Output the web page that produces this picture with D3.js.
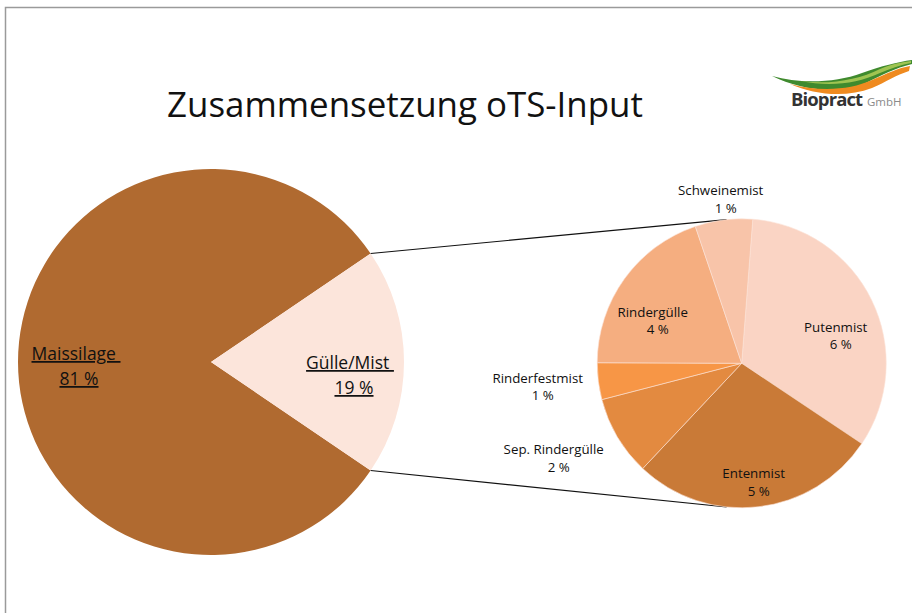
<!DOCTYPE html>
<html>
<head>
<meta charset="utf-8">
<script src="https://cdn.jsdelivr.net/npm/d3@7/dist/d3.min.js"></script>
<style>
  html, body { margin: 0; padding: 0; background: #fff; }
  svg { display: block; font-family: "Open Sans", "Noto Sans", sans-serif; }
</style>
</head>
<body>
<div id="chart"></div>
<script>
// Main pie: share of oTS input (%)
const mainNames = ['Maissilage', 'Gülle/Mist'];
const mainValues = [81, 19];

// Breakdown of Gülle/Mist (% of total oTS input)
const subNames = ['Putenmist', 'Entenmist', 'Sep. Rindergülle', 'Rinderfestmist', 'Rindergülle', 'Schweinemist'];
const subValues = [6.3, 5.25, 1.7, 0.78, 3.75, 1.22];

const titleText = 'Zusammensetzung oTS-Input';

const width = 912;
const height = 613;

const colors = {
  main: ['#B06A30', '#FCE5DB'],
  sub: ['#FAD4C4', '#C97A37', '#E38A40', '#F79646', '#F5AE80', '#F8C4A9'],
  border: '#9a9a9a',
  text: '#111'
};

const svg = d3.select('#chart')
  .append('svg')
  .attr('width', width)
  .attr('height', height);

// frame
svg.append('path')
  .attr('d', `M5.5,${height} L5.5,7.5 L${width},7.5`)
  .attr('fill', 'none')
  .attr('stroke', colors.border)
  .attr('stroke-width', 1.5);

// ============================================
// Title
// ============================================
const title = svg.append('text')
  .attr('x', 405)
  .attr('y', 117)
  .attr('text-anchor', 'middle')
  .attr('fill', colors.text)
  .attr('font-size', '30px')
  .text(titleText);
// fit to the width of the original title
const tw = title.node().getComputedTextLength();
title.attr('font-size', (30 * 476 / tw).toFixed(2) + 'px');

// ============================================
// Logo
// ============================================
const logo = svg.append('g');
logo.append('path')
  .attr('d', 'M772,76 C800,84 835,83 862,73 C882,66 897,62 912,60 L912,64 C895,68 882,75 866,83 C838,95 800,90 772,76 Z')
  .attr('fill', '#3f8a2e');
logo.append('path')
  .attr('d', 'M790,84 C820,92 850,90 872,80 C888,73 898,68 910,66 L909,71 C896,75 886,82 872,88 C846,98 815,95 790,84 Z')
  .attr('fill', '#ef8a1f');
logo.append('path')
  .attr('d', 'M800,81 C830,85 858,80 880,69 C892,64 902,62 911,61 L911,63 C900,65 890,69 880,73 C856,84 830,87 800,81 Z')
  .attr('fill', '#b8d25a')
  .attr('opacity', 0.8);
logo.append('text')
  .attr('x', 791)
  .attr('y', 106)
  .attr('fill', '#333')
  .attr('font-size', '18.5px')
  .attr('font-weight', 'bold')
  .attr('letter-spacing', '-0.9px')
  .text('Biopract');
logo.append('text')
  .attr('x', 867)
  .attr('y', 106)
  .attr('fill', '#8a8a8a')
  .attr('font-size', '11.5px')
  .text('GmbH');

// ============================================
// MAIN PIE
// ============================================
const mainCx = 211, mainCy = 362, mainR = 193;
const gShare = mainValues[1] / d3.sum(mainValues);

const mainPie = d3.pie()
  .sort(null)
  .startAngle(Math.PI / 2 + gShare * Math.PI)
  .endAngle(Math.PI / 2 + gShare * Math.PI + 2 * Math.PI)
  .value(d => d);

const mainArcs = mainPie(mainValues);
const mainArc = d3.arc().innerRadius(0).outerRadius(mainR);

const mainG = svg.append('g')
  .attr('transform', `translate(${mainCx},${mainCy})`);

mainG.selectAll('.main-slice')
  .data(mainArcs)
  .enter()
  .append('path')
  .attr('class', 'main-slice')
  .attr('d', mainArc)
  .attr('fill', (d, i) => colors.main[i]);

// main labels (offset from centre)
const mainLabelPos = [
  { x: -135, y: -2, dx2: 3 },
  { x: 139, y: 7, dx2: 4 }
];

mainArcs.forEach((d, i) => {
  const p = mainLabelPos[i];
  mainG.append('text')
    .attr('x', p.x)
    .attr('y', p.y)
    .attr('text-anchor', 'middle')
    .attr('fill', colors.text)
    .attr('font-size', '17.5px')
    .style('text-decoration', 'underline')
    .style('white-space', 'pre')
    .text(mainNames[i] + ' ');
  mainG.append('text')
    .attr('x', p.x + p.dx2)
    .attr('y', p.y + 25)
    .attr('text-anchor', 'middle')
    .attr('fill', colors.text)
    .attr('font-size', '17.5px')
    .style('text-decoration', 'underline')
    .text(`${Math.round(mainValues[i])} %`);
});

// ============================================
// SUB PIE (breakdown of Gülle/Mist)
// ============================================
const subCx = 741.7, subCy = 363.3, subR = 144.5;
const subStart = 4.4 * Math.PI / 180;

const subPie = d3.pie()
  .sort(null)
  .startAngle(subStart)
  .endAngle(subStart + 2 * Math.PI)
  .value(d => d);

const subArcs = subPie(subValues);
const subArc = d3.arc().innerRadius(0).outerRadius(subR);

// connector lines from the Gülle/Mist wedge to the sub pie
const gArc = mainArcs[1];
const onCircle = (cx, cy, r, a) => [cx + r * Math.sin(a), cy - r * Math.cos(a)];
const connTop = -6 * Math.PI / 180;
const connBottom = 186 * Math.PI / 180;
const lines = [
  [onCircle(mainCx, mainCy, mainR, gArc.startAngle), onCircle(subCx, subCy, subR, connTop)],
  [onCircle(mainCx, mainCy, mainR, gArc.endAngle), onCircle(subCx, subCy, subR, connBottom)]
];

svg.selectAll('.conn-line')
  .data(lines)
  .enter()
  .append('line')
  .attr('class', 'conn-line')
  .attr('x1', d => d[0][0])
  .attr('y1', d => d[0][1])
  .attr('x2', d => d[1][0])
  .attr('y2', d => d[1][1])
  .attr('stroke', '#111')
  .attr('stroke-width', 1.2);

const subG = svg.append('g')
  .attr('transform', `translate(${subCx},${subCy})`);

subG.selectAll('.sub-slice')
  .data(subArcs)
  .enter()
  .append('path')
  .attr('class', 'sub-slice')
  .attr('d', subArc)
  .attr('fill', (d, i) => colors.sub[i])
  .attr('stroke', '#fbe3d6')
  .attr('stroke-width', 0.6);

// label positions relative to the sub pie centre
const subLabelPos = [
  { x: 94, y: -31.6 },
  { x: 12, y: 115 },
  { x: -188, y: 91 },
  { x: -204, y: 19.4 },
  { x: -89, y: -46.6 },
  { x: -21, y: -168 }
];

subG.selectAll('.sub-name')
  .data(subArcs)
  .enter()
  .append('text')
  .attr('class', 'sub-name')
  .attr('x', (d, i) => subLabelPos[i].x)
  .attr('y', (d, i) => subLabelPos[i].y)
  .attr('text-anchor', 'middle')
  .attr('fill', colors.text)
  .attr('font-size', '13.3px')
  .text((d, i) => subNames[i]);

subG.selectAll('.sub-value')
  .data(subArcs)
  .enter()
  .append('text')
  .attr('class', 'sub-value')
  .attr('x', (d, i) => subLabelPos[i].x + 5)
  .attr('y', (d, i) => subLabelPos[i].y + 17.5)
  .attr('text-anchor', 'middle')
  .attr('fill', colors.text)
  .attr('font-size', '13.3px')
  .text(d => `${Math.round(d.value)} %`);
</script>
</body>
</html>
